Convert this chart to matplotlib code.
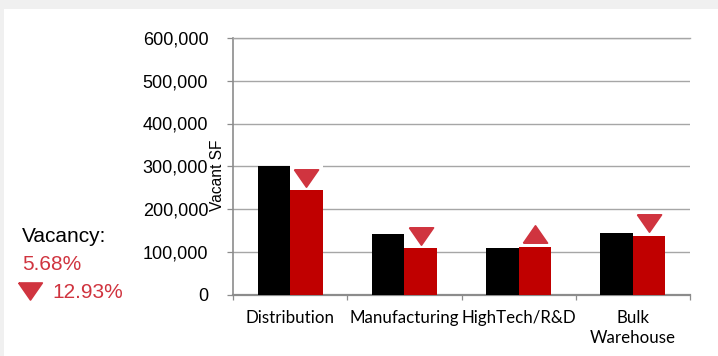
import matplotlib
matplotlib.use("Agg")
import matplotlib.pyplot as plt
from matplotlib.patches import Rectangle
from matplotlib.transforms import ScaledTranslation
from matplotlib.ticker import FuncFormatter, FixedLocator

# ---- data -------------------------------------------------------------
categories = ["Distribution", "Manufacturing", "HighTech/R&D", "Bulk\nWarehouse"]
prior_sf = [300000, 141000, 109000, 144000]
current_sf = [244000, 108000, 112000, 137000]
trend = ["down", "down", "up", "down"]
y_ticks = [0, 100000, 200000, 300000, 400000, 500000, 600000]
vacancy_rate = "5.68%"
vacancy_change = "12.93%"

# ---- styling ----------------------------------------------------------
W, H, DPI = 718, 356, 100
BLACK = "#000000"
BAR_RED = "#c00000"
MARK_RED = "#d0343f"
GRID = "#a6a6a6"
SPINE = "#8c8c8c"
FONT = "Liberation Sans"
XFONT = "Lato"

plt.rcParams["font.family"] = [FONT, "DejaVu Sans"]

fig = plt.figure(figsize=(W / DPI, H / DPI), dpi=DPI, facecolor="#f0f0f0")
fig.add_artist(Rectangle((4 / W, 0), 1 - 4 / W, 1 - 9 / H,
                         transform=fig.transFigure, facecolor="white",
                         edgecolor="none", zorder=0))


def fx(px):
    return px / W


def fy(py):
    return 1 - py / H


ax = fig.add_axes([fx(233), fy(294.5), fx(690) - fx(233), fy(38) - fy(294.5)])
ax.set_facecolor("none")

n = len(categories)
xs = list(range(n))
bw = 0.285

ax.bar([x - bw / 2 for x in xs], prior_sf, width=bw, color=BLACK, zorder=3)
ax.bar([x + bw / 2 for x in xs], current_sf, width=bw, color=BAR_RED, zorder=3)

# trend markers just above the current bars
down_tri = [(-1, 0.72), (1, 0.72), (0, -0.72), (-1, 0.72)]
up_tri = [(-1, -0.72), (1, -0.72), (0, 0.72), (-1, -0.72)]
lift = ScaledTranslation(0, 12.5 / DPI, fig.dpi_scale_trans)
box_lift = ScaledTranslation(0, 1 / DPI, fig.dpi_scale_trans)
for x, v, t in zip(xs, current_sf, trend):
    ax.bar(x + bw / 2, 24 * (600000 / 256.5), bottom=v, width=bw,
           color="white", zorder=2.5, transform=ax.transData + box_lift)
    ax.plot(x + bw / 2, v, marker=down_tri if t == "down" else up_tri,
            ms=17.3, color=MARK_RED, mec=MARK_RED, mew=1.2,
            linestyle="none", zorder=4,
            transform=ax.transData + lift, clip_on=False)

# ---- axes -------------------------------------------------------------
ax.set_xlim(-0.5, n - 0.5)
ax.set_ylim(0, 600000)
ax.set_yticks(y_ticks)
ax.yaxis.set_major_formatter(FuncFormatter(lambda v, p: f"{int(v):,}"))
ax.tick_params(axis="y", length=4.3, width=0.9, color=SPINE, pad=13.5,
               labelsize=13, labelcolor="black")
ax.grid(axis="y", color=GRID, linewidth=1.0, zorder=1)
ax.set_axisbelow(True)

ax.set_xticks(xs)
ax.set_xticklabels(categories, fontfamily=XFONT, fontsize=12.2,
                   linespacing=1.3, va="top")
ax.xaxis.set_minor_locator(FixedLocator([i - 0.5 for i in range(n + 1)]))
ax.tick_params(axis="x", which="major", length=0, pad=11)
ax.tick_params(axis="x", which="minor", length=3.5, width=0.9, color=SPINE)

ax.spines["right"].set_visible(False)
ax.spines["top"].set_color(GRID)
ax.spines["top"].set_linewidth(1.0)
ax.spines["left"].set_color(SPINE)
ax.spines["bottom"].set_color(SPINE)
ax.spines["left"].set_linewidth(1.2)
ax.spines["bottom"].set_linewidth(1.6)

fig.text(fx(217), fy(175), "Vacant SF", rotation=90, ha="center",
         va="center", fontsize=11.2, color="black")

# ---- vacancy summary --------------------------------------------------
fig.text(fx(22), fy(242.5), "Vacancy:", fontsize=15, color="black",
         va="baseline", ha="left")
fig.text(fx(22), fy(270), vacancy_rate, fontsize=15, color=MARK_RED,
         va="baseline", ha="left")
fig.text(fx(52), fy(297.5), vacancy_change, fontsize=15, color=MARK_RED,
         va="baseline", ha="left")
fig.add_artist(plt.Line2D([fx(30)], [fy(291)], marker=down_tri, ms=17,
                          color=MARK_RED, mec=MARK_RED, mew=1.2,
                          linestyle="none", transform=fig.transFigure))

fig.savefig("out.png", dpi=DPI, facecolor=fig.get_facecolor())
